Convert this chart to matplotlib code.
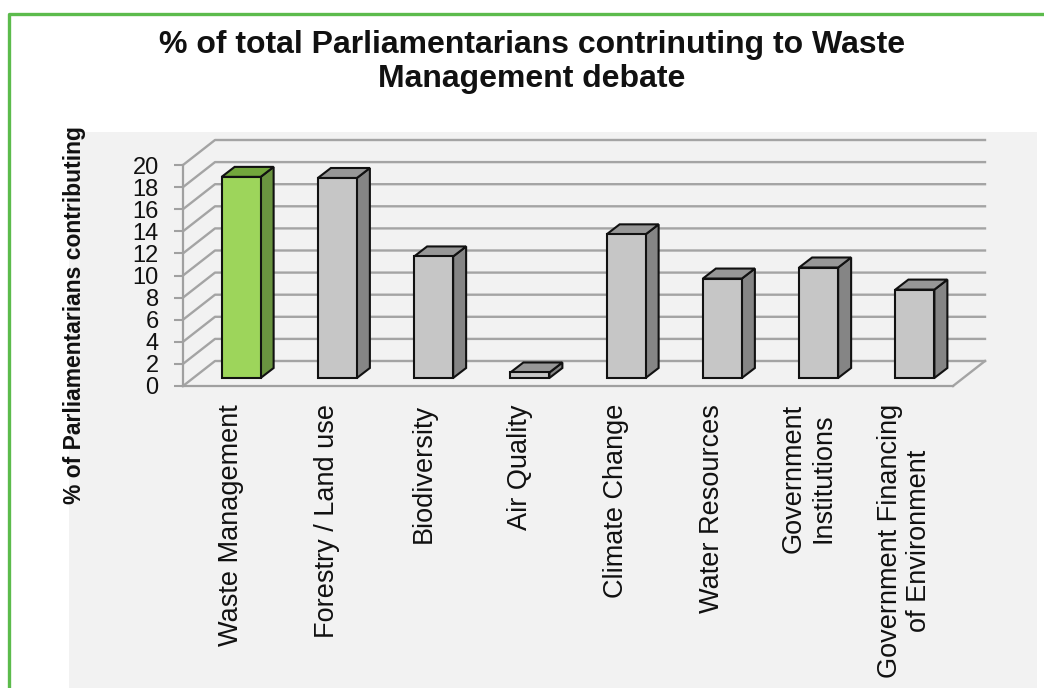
import numpy as np
import matplotlib
matplotlib.use('Agg')
import matplotlib.pyplot as plt
from matplotlib.patches import Polygon, Rectangle
from matplotlib.lines import Line2D

plt.rcParams['font.family'] = ['Liberation Sans', 'DejaVu Sans']

# so lieu
categories = ['Waste Management', 'Forestry / Land use', 'Biodiversity', 'Air Quality',
              'Climate Change', 'Water Resources', 'Government\nInstitutions',
              'Government Financing\nof Environment']
values = [18.2, 18.1, 11, 0.5, 13, 9, 10, 8]
yticks = [0, 2, 4, 6, 8, 10, 12, 14, 16, 18, 20]

W, H = 1044, 688
fig = plt.figure(figsize=(W / 100, H / 100), dpi=100)
fig.patch.set_facecolor('white')

# nen xam cua vung bieu do va vien xanh
fig.patches.append(Rectangle((69 / W, 0), (1037 - 69) / W, (H - 132) / H,
                             transform=fig.transFigure, facecolor='#f2f2f2',
                             edgecolor='none', zorder=-5))
fig.lines.append(Line2D([9 / W, 9 / W, 1.0], [0, 1 - 14 / H, 1 - 14 / H],
                        transform=fig.transFigure, color='#5cbb4c', lw=2.4, zorder=-4))

# truc: trai o x=183px, duoi o y=386px
x0, x1 = 183, 953
yb, yt = 386, 165
ax = fig.add_axes([x0 / W, (H - yb) / H, (x1 - x0) / W, (yb - yt) / H])
ax.set_xlim(-0.5, 7.5)
ax.set_ylim(0, 20)
ax.patch.set_alpha(0)
for s in ['top', 'right']:
    ax.spines[s].set_visible(False)
for s in ['left', 'bottom']:
    ax.spines[s].set_color('#a0a0a0')
    ax.spines[s].set_linewidth(1.6)

pxx = (x1 - x0) / 8.0
pxy = (yb - yt) / 20.0
# do sau cua tuong sau, vi tri va do day cua cot
wdx, wdy = 32 / pxx, 25 / pxy
odx, ody = 10 / pxx, 8 / pxy
bdx, bdy = 13 / pxx, 10 / pxy
hw = 19.5 / pxx

grid_kw = dict(color='#a4a4a4', lw=1.7, clip_on=False, zorder=1)
for t in yticks:
    ax.plot([-0.5, -0.5 + wdx, 7.5 + wdx], [t, t + wdy, t + wdy], **grid_kw)
ax.plot([7.5, 7.5 + wdx], [0, wdy], **grid_kw)

# ve cot 3D: mat truoc, mat tren, mat ben
for i, v in enumerate(values):
    if i == 0:
        cf, ct, cs = '#9dd55b', '#72a63c', '#6a9440'
    else:
        cf, ct, cs = '#c6c6c6', '#979797', '#858585'
    l = i + odx - hw
    r = i + odx + hw
    b = ody
    top = ody + v
    ax.add_patch(Polygon([[r, b], [r + bdx, b + bdy], [r + bdx, top + bdy], [r, top]],
                         closed=True, facecolor=cs, edgecolor='#111111', lw=1.5,
                         zorder=3, clip_on=False))
    ax.add_patch(Polygon([[l, top], [l + bdx, top + bdy], [r + bdx, top + bdy], [r, top]],
                         closed=True, facecolor=ct, edgecolor='#111111', lw=1.5,
                         zorder=3, clip_on=False))
    ax.add_patch(Rectangle((l, b), r - l, v, facecolor=cf, edgecolor='#111111',
                           lw=1.5, zorder=4, clip_on=False))

ax.set_yticks(yticks)
ax.set_yticklabels([str(t) for t in yticks], fontsize=17, color='#111111')
ax.tick_params(axis='y', length=6.5, width=1.5, color='#a0a0a0', pad=11)
ax.set_xticks(range(len(categories)))
ax.set_xticklabels(categories, rotation=90, fontsize=19.5, va='top', ha='center',
                   multialignment='center', color='#111111', linespacing=1.15)
ax.tick_params(axis='x', length=0, pad=13)

fig.text(75 / W, 1 - 315 / H, '% of Parliamentarians contributing', rotation=90,
         ha='center', va='center', fontsize=16.5, fontweight='bold', color='#111111')
fig.text(532 / W, 1 - 62 / H,
         '% of total Parliamentarians contrinuting to Waste\nManagement debate',
         ha='center', va='center', fontsize=23, fontweight='bold', color='#111111',
         linespacing=1.2)

fig.savefig('out.png', dpi=100)
